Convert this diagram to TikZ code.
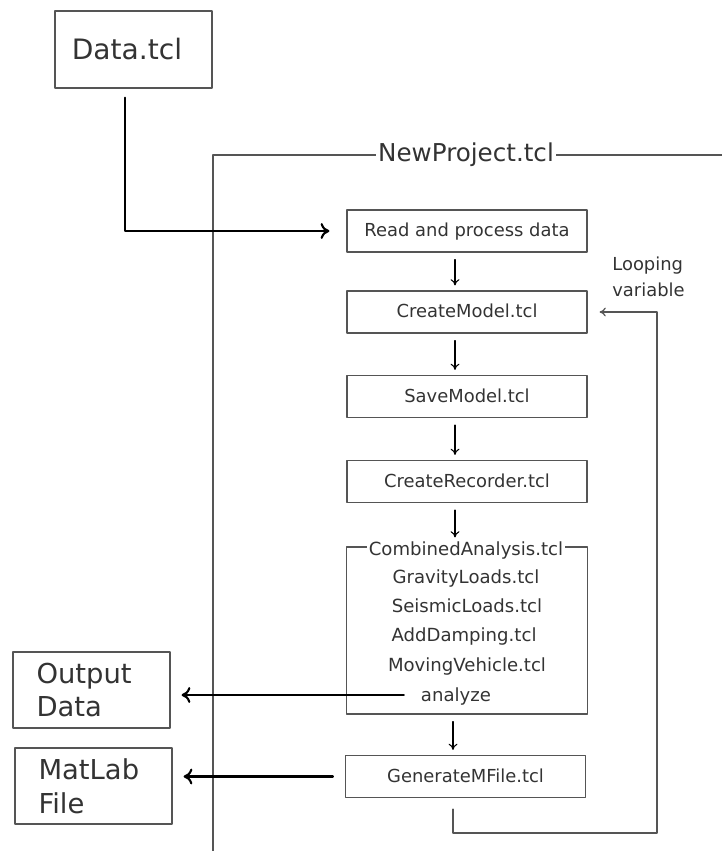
\documentclass[tikz,border=0pt]{standalone}
\usepackage{fontspec}
\setmainfont{DejaVu Sans}
\usetikzlibrary{arrows.meta}
\definecolor{ink}{HTML}{333333}
\definecolor{edge}{HTML}{555555}
\begin{document}
\begin{tikzpicture}[x=0.02cm, y=-0.02cm, line cap=round, line join=round,
	stepbox/.style={draw=edge, line width=0.7pt, text=ink, minimum width=4.8cm, minimum height=0.84cm, inner sep=0pt, text height=1.5ex, text depth=0.3ex, font=\fontsize{10.2}{12}\selectfont},
	filebox/.style={draw=edge, line width=0.7pt, text=ink, minimum width=3.14cm, minimum height=1.52cm, inner xsep=0.46cm, text width=2.2cm, align=left, font=\fontsize{15.6}{19.2}\selectfont},
	subitem/.style={text=ink, inner sep=1pt, anchor=base, font=\fontsize{10.3}{12}\selectfont},
	thin/.style={-{To[length=3.5pt,width=5pt]}, line width=0.6pt, shorten <=0.14cm, shorten >=0.1cm},
	thick/.style={-{To[length=5pt,width=9pt]}, line width=1.2pt}]
	\useasboundingbox (0,0) rectangle (722,851);

	% Eingabe
	\node[draw=edge, line width=0.7pt, minimum width=3.14cm, minimum height=1.54cm] (data) at (133.5,49.5) {};
	\node[text=ink, font=\fontsize{16}{19}\selectfont] (datal) at (127,49) {Data.tcl};

	% Rahmen NewProject.tcl
	\draw[edge, line width=0.7pt] (213,851) -- (213,155) -- (722,155);
	\node[fill=white, text=ink, inner sep=1pt, font=\fontsize{14}{16}\selectfont] (proj) at (466,155) {NewProject.tcl};

	% Schritte
	\node[stepbox] (read) at (467,231) {Read and process data};
	\node[stepbox] (model) at (467,312) {CreateModel.tcl};
	\node[stepbox] (save) at (467,396.5) {SaveModel.tcl};
	\node[stepbox] (rec) at (467,481.5) {CreateRecorder.tcl};
	\node[draw=edge, line width=0.7pt, minimum width=4.82cm, minimum height=3.34cm, inner sep=0pt] (comb) at (467,630.5) {};
	\node[subitem, fill=white] (combl) at (466,555) {CombinedAnalysis.tcl};
	\node[subitem] (grav) at (466,583) {GravityLoads.tcl};
	\node[subitem] (seis) at (467,612) {SeismicLoads.tcl};
	\node[subitem] (damp) at (464,641) {AddDamping.tcl};
	\node[subitem] (veh) at (467,671) {MovingVehicle.tcl};
	\node[subitem] (ana) at (456,701) {analyze};
	\node[stepbox] (gen) at (465.5,776.5) {GenerateMFile.tcl};

	\node[text=ink, align=left, anchor=west, inner sep=0pt, font=\fontsize{10.2}{14.5}\selectfont] (loopvar) at (612,277) {Looping\\variable};

	% Ausgabe
	\node[filebox] (out) at (91.5,690) {Output\\Data};
	\node[filebox] (mat) at (93.5,786) {MatLab\\File};

	% Verbindungen
	\coordinate (col) at (455,0);
	\draw[thick, shorten <=0.18cm, shorten >=0.34cm] (data.south -| 125,0) |- (read.west);
	\draw[thin] (read.south -| col) -- (model.north -| col);
	\draw[thin] (model.south -| col) -- (save.north -| col);
	\draw[thin] (save.south -| col) -- (rec.north -| col);
	\draw[thin, shorten >=0.18cm] (rec.south -| col) -- (comb.north -| col);
	\draw[thin] (comb.south -| 453,0) -- (gen.north -| 453,0);
	\draw[thick, shorten <=0.3cm, shorten >=0.22cm] (ana.west |- 0,695) -- (out.east |- 0,695);
	\draw[thick, shorten <=0.24cm, shorten >=0.22cm] (gen.west) -- (mat.east |- gen.west);
	\draw[edge, line width=0.7pt, -{To[length=3.5pt,width=5pt]}, shorten <=0.22cm, shorten >=0.24cm]
		(gen.south -| 453,0) |- (657,833) |- (model.east);
\end{tikzpicture}
\end{document}
